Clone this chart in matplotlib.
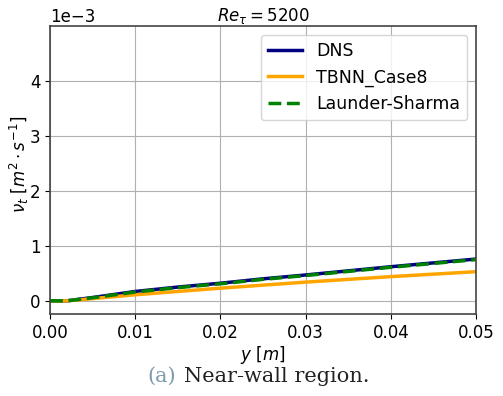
import numpy as np
import matplotlib
matplotlib.use("Agg")
import matplotlib.pyplot as plt

# wall distance [m] and eddy viscosity [m^2/s]
y = [0.0, 0.002, 0.005, 0.01, 0.015, 0.02, 0.025, 0.03, 0.035, 0.04, 0.045, 0.05]
nu_dns = [0.0, 0.0, 0.06e-3, 0.17e-3, 0.25e-3, 0.32e-3, 0.40e-3, 0.47e-3, 0.545e-3, 0.62e-3, 0.69e-3, 0.76e-3]
nu_tbnn = [0.0, 0.0, 0.04e-3, 0.11e-3, 0.17e-3, 0.23e-3, 0.285e-3, 0.34e-3, 0.39e-3, 0.44e-3, 0.485e-3, 0.53e-3]
nu_ls = [0.0, 0.0, 0.055e-3, 0.16e-3, 0.24e-3, 0.31e-3, 0.39e-3, 0.46e-3, 0.535e-3, 0.61e-3, 0.68e-3, 0.75e-3]

fig = plt.figure(figsize=(5.03, 3.96), dpi=100)
ax = fig.add_axes([50/503, 1-314/396, 426/503, 288/396])

ax.plot(y, nu_dns, color="navy", lw=2.5, label="DNS")
ax.plot(y, nu_tbnn, color="orange", lw=2.5, label="TBNN_Case8")
ax.plot(y, nu_ls, color="green", lw=2.5, ls="--", label="Launder-Sharma")

ax.set_xlim(0, 0.05)
ax.set_ylim(-0.00024, 0.005)
ax.set_xticks([0, 0.01, 0.02, 0.03, 0.04, 0.05])
ax.set_yticks([0, 0.001, 0.002, 0.003, 0.004])
ax.ticklabel_format(axis="y", style="sci", scilimits=(0, 0))
ax.yaxis.get_offset_text().set_fontsize(12)
ax.tick_params(labelsize=12)
ax.grid(True, color="#b0b0b0", lw=0.8)
for s in ax.spines.values():
    s.set_color("#444444")
    s.set_linewidth(1.2)

ax.set_title(r"$Re_\tau = 5200$", fontsize=12, pad=3)
ax.set_xlabel(r"$y\ [m]$", fontsize=12, labelpad=2)
ax.set_ylabel(r"$\nu_t\ [m^2 \cdot s^{-1}]$", fontsize=12)
ax.yaxis.set_label_coords(-0.045, 0.52)
ax.legend(fontsize=12.5, loc="upper right", handlelength=2.0)

fig.text(176/503, 1-376/396, "(a)", color="#7f9bb0", fontsize=15, family="DejaVu Serif", ha="right", va="center")
fig.text(184/503, 1-376/396, "Near-wall region.", color="#222222", fontsize=15, family="DejaVu Serif", ha="left", va="center")

fig.savefig("out.png", dpi=100)
